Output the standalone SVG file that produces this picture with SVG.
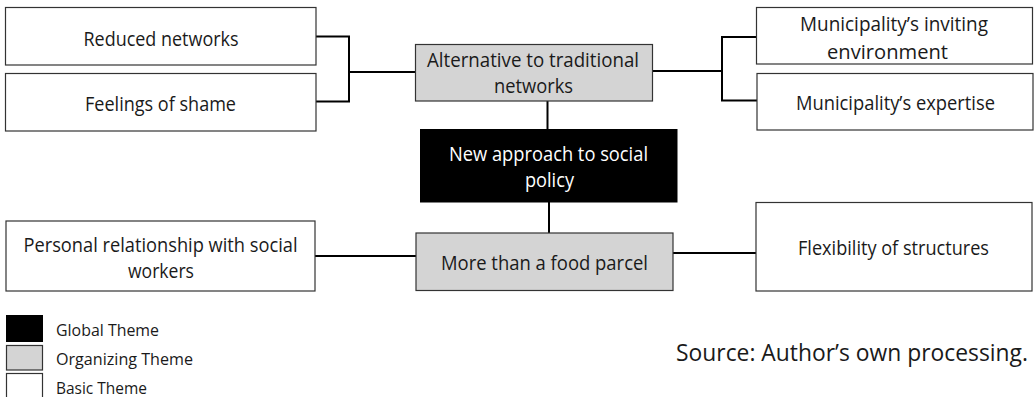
<svg xmlns="http://www.w3.org/2000/svg" width="1035" height="397" viewBox="0 0 1035 397">
<style>
text{font-family:"Open Sans","Noto Sans","DejaVu Sans",sans-serif;fill:#1a1a1a}
.t{font-size:20px;text-anchor:middle}
.w{fill:#fff}
.basic{fill:#fff;stroke:#333;stroke-width:1.2}
.org{fill:#d4d4d4;stroke:#333;stroke-width:1.2}
.glob{fill:#000;stroke:#000;stroke-width:1}
.c{fill:none;stroke:#000;stroke-width:2}
.lg{font-size:17px}
</style>
<rect width="1035" height="397" fill="#fff"/>
<g id="connectors">
<path class="c" d="M316 36.5H349V101.5H316M349 72H415.5"/>
<path class="c" d="M652.5 71H722V37H756.5M722 71V100.5H757"/>
<path class="c" d="M547.5 101V129"/>
<path class="c" d="M549 202V233"/>
<path class="c" d="M315 256H416"/>
<path class="c" d="M673 253H756"/>
</g>
<g id="reduced-networks">
<rect class="basic" x="5.5" y="7.5" width="310.5" height="57.5"/>
<text class="t" x="161" y="45.5" textLength="155" lengthAdjust="spacingAndGlyphs">Reduced networks</text>
</g>
<g id="feelings-of-shame">
<rect class="basic" x="5.5" y="73.5" width="310.5" height="57.5"/>
<text class="t" x="160.5" y="110.5" textLength="151" lengthAdjust="spacingAndGlyphs">Feelings of shame</text>
</g>
<g id="alternative">
<rect class="org" x="415.5" y="44.5" width="237" height="56.5"/>
<text class="t" x="533" y="67" textLength="212" lengthAdjust="spacingAndGlyphs">Alternative to traditional</text>
<text class="t" x="533.5" y="93" textLength="79" lengthAdjust="spacingAndGlyphs">networks</text>
</g>
<g id="municipality-environment">
<rect class="basic" x="756.5" y="7.5" width="276" height="56.5"/>
<text class="t" x="894" y="31" textLength="188" lengthAdjust="spacingAndGlyphs">Municipality’s inviting</text>
<text class="t" x="887.5" y="58.5" textLength="121" lengthAdjust="spacingAndGlyphs">environment</text>
</g>
<g id="municipality-expertise">
<rect class="basic" x="757" y="73.5" width="276" height="56.5"/>
<text class="t" x="895.5" y="110" textLength="199" lengthAdjust="spacingAndGlyphs">Municipality’s expertise</text>
</g>
<g id="new-approach">
<rect class="glob" x="420.5" y="129.5" width="256.5" height="72.5"/>
<text class="t w" x="548.5" y="161" textLength="199" lengthAdjust="spacingAndGlyphs">New approach to social</text>
<text class="t w" x="549.5" y="187" textLength="49" lengthAdjust="spacingAndGlyphs">policy</text>
</g>
<g id="more-than-food-parcel">
<rect class="org" x="416" y="233" width="257" height="57.5"/>
<text class="t" x="544.5" y="270" textLength="207" lengthAdjust="spacingAndGlyphs">More than a food parcel</text>
</g>
<g id="personal-relationship">
<rect class="basic" x="6" y="221" width="309" height="70"/>
<text class="t" x="160.5" y="251.5" textLength="274" lengthAdjust="spacingAndGlyphs">Personal relationship with social</text>
<text class="t" x="161" y="277.5" textLength="66" lengthAdjust="spacingAndGlyphs">workers</text>
</g>
<g id="flexibility">
<rect class="basic" x="756" y="202.5" width="276" height="88.5"/>
<text class="t" x="893.5" y="255" textLength="191" lengthAdjust="spacingAndGlyphs">Flexibility of structures</text>
</g>
<g id="legend">
<rect class="glob" x="6.5" y="315.5" width="36" height="26"/>
<rect class="org" x="6.5" y="345.5" width="36" height="24.5"/>
<rect class="basic" x="6.5" y="373.5" width="36" height="30"/>
<text class="lg" x="56" y="336" textLength="103" lengthAdjust="spacingAndGlyphs">Global Theme</text>
<text class="lg" x="56" y="365" textLength="137" lengthAdjust="spacingAndGlyphs">Organizing Theme</text>
<text class="lg" x="56" y="394" textLength="91" lengthAdjust="spacingAndGlyphs">Basic Theme</text>
</g>
<text x="676" y="361" font-size="23" textLength="352" lengthAdjust="spacingAndGlyphs">Source: Author’s own processing.</text>
</svg>
